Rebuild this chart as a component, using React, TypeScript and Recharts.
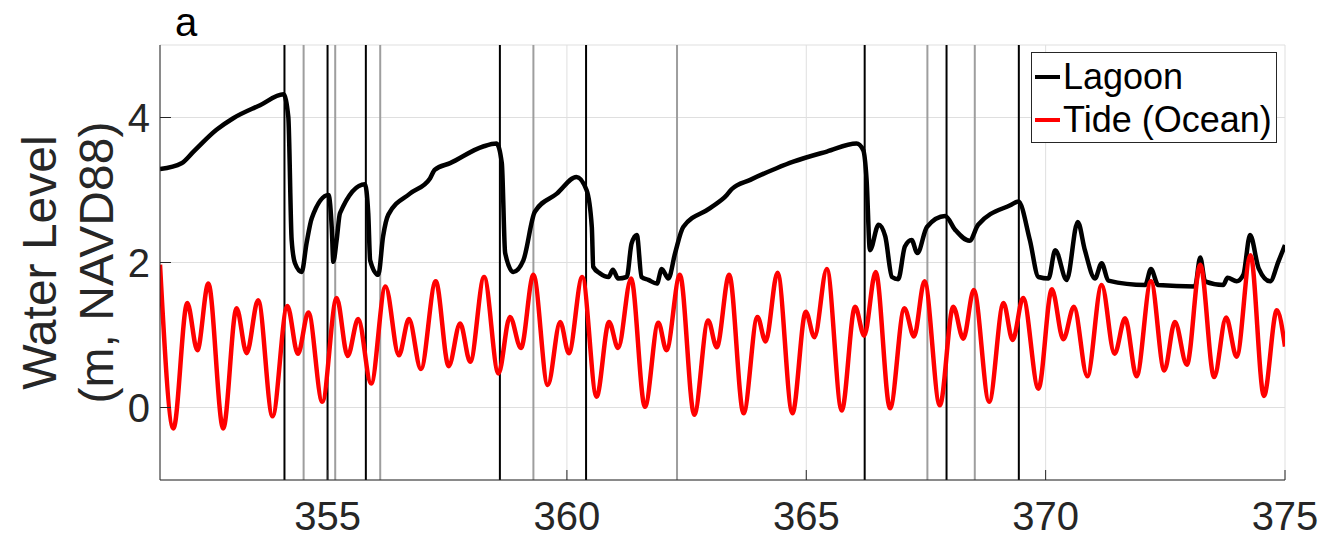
import React from 'react';
import { LineChart, Line, XAxis, YAxis, CartesianGrid, ReferenceLine, Legend } from 'recharts';

// ---- data ----
const lagoonTime = [
  351.5, 351.95, 352.2, 352.68, 353.03, 353.59, 354.08, 354.18, 354.25, 354.32, 354.46, 354.56, 354.67,
  355.02, 355.09, 355.12, 355.19, 355.26, 355.78, 355.85, 355.89, 356.06, 356.16, 356.27, 356.72, 357.14,
  357.24, 357.56, 358.25, 358.53, 358.64, 358.71, 358.88, 359.09, 359.33, 359.79, 360.2, 360.41, 360.52,
  360.55, 360.69, 360.87, 360.96, 361.07, 361.25, 361.35, 361.46, 361.56, 361.7, 361.88, 361.98, 362.12,
  362.26, 362.43, 362.99, 363.34, 363.44, 363.83, 364.38, 364.73, 365.43, 366.05, 366.19, 366.26, 366.33,
  366.51, 366.65, 366.79, 366.92, 367.06, 367.2, 367.32, 367.52, 367.9, 368.11, 368.41, 368.59, 369.26,
  369.43, 369.67, 369.85, 370.06, 370.2, 370.44, 370.67, 370.82, 371.03, 371.17, 371.31, 372.08, 372.2,
  372.35, 373.12, 373.23, 373.33, 373.71, 373.8, 373.99, 374.13, 374.27, 374.45, 374.69, 374.86, 375.0,
];
const lagoonLevel = [
  3.29, 3.37, 3.53, 3.83, 3.99, 4.17, 4.32, 4.01, 2.31, 1.99, 1.87, 2.26, 2.61,
  2.93, 2.45, 2.01, 2.31, 2.68, 3.08, 2.68, 2.03, 1.83, 2.36, 2.66, 2.95, 3.16,
  3.28, 3.37, 3.6, 3.64, 3.37, 2.13, 1.87, 2.03, 2.7, 2.95, 3.18, 3.0, 2.49,
  1.94, 1.85, 1.8, 1.9, 1.78, 1.8, 2.26, 2.38, 1.8, 1.76, 1.71, 1.91, 1.78,
  2.13, 2.49, 2.75, 2.93, 3.01, 3.14, 3.3, 3.39, 3.53, 3.64, 3.55, 3.14, 2.17,
  2.52, 2.36, 1.8, 1.77, 2.22, 2.31, 2.13, 2.49, 2.64, 2.45, 2.3, 2.52, 2.79,
  2.84, 2.31, 1.8, 1.78, 2.17, 1.76, 2.56, 2.17, 1.78, 1.99, 1.75, 1.69, 1.91,
  1.69, 1.67, 2.07, 1.74, 1.69, 1.79, 1.74, 1.83, 2.38, 1.92, 1.74, 2.01, 2.24,
];

const tideTime = [
  351.5, 351.78, 352.07, 352.28, 352.51, 352.82, 353.1, 353.31, 353.55, 353.85,
  354.16, 354.38, 354.6, 354.89, 355.19, 355.42,
  355.64, 355.91, 356.21, 356.49, 356.7, 356.95, 357.26, 357.53,
  357.77, 357.98, 358.27, 358.57, 358.81, 359.04, 359.3, 359.6, 359.86, 360.04,
  360.32, 360.62, 360.88, 361.07, 361.34, 361.63, 361.91, 362.08, 362.36, 362.66,
  362.95, 363.13, 363.39, 363.69, 363.98, 364.15, 364.4, 364.71, 364.99, 365.17,
  365.43, 365.74, 366.02, 366.21, 366.45, 366.75, 367.05, 367.25, 367.47, 367.79,
  368.07, 368.28, 368.5, 368.82, 369.12, 369.31, 369.53, 369.85, 370.13, 370.37,
  370.59, 370.87, 371.17, 371.44, 371.66, 371.9, 372.2, 372.48, 372.7, 372.95,
  373.23, 373.52, 373.77, 373.99, 374.28, 374.56, 374.83, 375.0,
];
const tideLevel = [
  1.97, -0.29, 1.44, 0.79, 1.71, -0.29, 1.37, 0.75, 1.48, -0.12,
  1.4, 0.74, 1.31, 0.08, 1.51, 0.71,
  1.22, 0.33, 1.67, 0.72, 1.22, 0.53, 1.74, 0.57,
  1.16, 0.63, 1.8, 0.47, 1.25, 0.82, 1.83, 0.31, 1.18, 0.75,
  1.8, 0.15, 1.18, 0.82, 1.78, 0.01, 1.17, 0.79, 1.83, -0.1,
  1.2, 0.83, 1.83, -0.08, 1.25, 0.91, 1.86, -0.08, 1.32, 0.97,
  1.91, -0.04, 1.39, 0.99, 1.87, -0.01, 1.37, 0.98, 1.74, 0.03,
  1.39, 0.95, 1.62, 0.08, 1.44, 0.93, 1.51, 0.26, 1.63, 0.94,
  1.39, 0.43, 1.69, 0.74, 1.23, 0.43, 1.74, 0.51, 1.18, 0.59,
  1.97, 0.42, 1.24, 0.7, 2.1, 0.16, 1.34, 0.84,
];

const breachBlack = [354.1, 355.0, 355.8, 358.6, 360.4, 366.22, 367.93, 369.44];
const breachGray = [354.5, 355.16, 356.1, 359.3, 362.3, 367.53, 368.52];

const xTicks = [355, 360, 365, 370, 375];
const yTicks = [0, 2, 4];
const xDomain = [351.5, 375];
const yDomain = [-1, 5];

const seriesNames = ['Lagoon', 'Tide (Ocean)'];
const seriesColors = ['#000000', '#ff0000'];

const lagoonData = lagoonTime.map((t, i) => ({ t, v: lagoonLevel[i] }));
const tideData = tideTime.map((t, i) => ({ t, v: tideLevel[i] }));

const FONT = '"Liberation Sans", Arial, Helvetica, sans-serif';
const AXIS_COLOR = '#262626';

const XTick = (props: any) => {
  const { x, y, payload } = props;
  return (
    <g>
      <line x1={x} x2={x} y1={y} y2={y - 10} stroke={AXIS_COLOR} strokeWidth={1} />
      <text x={x} y={y + 50} textAnchor="middle" fontSize={40} fill={AXIS_COLOR} fontFamily={FONT}>
        {payload.value}
      </text>
    </g>
  );
};

const YTick = (props: any) => {
  const { x, y, payload } = props;
  return (
    <g>
      <line x1={x} x2={x + 11} y1={y} y2={y} stroke={AXIS_COLOR} strokeWidth={1} />
      <text x={x - 10} y={y + 14} textAnchor="end" fontSize={40} fill={AXIS_COLOR} fontFamily={FONT}>
        {payload.value}
      </text>
    </g>
  );
};

const YLabel = (props: any) => {
  const vb = props.viewBox || { x: 0, y: 45, width: 160, height: 435 };
  const cy = vb.y + vb.height / 2;
  return (
    <g fontFamily={FONT} fontSize={48} fill={AXIS_COLOR}>
      <text x={56} y={cy} textAnchor="middle" transform={`rotate(-90 56 ${cy})`}>
        Water Level
      </text>
      <text x={113} y={cy} textAnchor="middle" transform={`rotate(-90 113 ${cy})`}>
        (m, NAVD88)
      </text>
    </g>
  );
};

const LegendBox = () => (
  <div
    style={{
      width: 246,
      height: 91,
      boxSizing: 'border-box',
      border: '1px solid #262626',
      background: '#ffffff',
      fontFamily: FONT,
      fontSize: 36,
      lineHeight: '43px',
      color: '#000',
      padding: '2px 0 0 3px',
      textAlign: 'left',
    }}
  >
    {seriesNames.map((n, i) => (
      <div key={n} style={{ display: 'flex', alignItems: 'center', whiteSpace: 'nowrap', height: 43 }}>
        <span style={{ display: 'inline-block', width: 25, height: 4, background: seriesColors[i], marginRight: 3 }} />
        <span>{n}</span>
      </div>
    ))}
  </div>
);

export default function App() {
  return (
    <div style={{ position: 'absolute', left: 0, top: 0, width: 1327, height: 541, background: '#fff' }}>
      <LineChart width={1327} height={541} margin={{ top: 45, right: 42, bottom: 0, left: 0 }}>
        <CartesianGrid stroke="#dfdfdf" strokeWidth={1} />
        <XAxis
          dataKey="t"
          type="number"
          domain={xDomain}
          ticks={xTicks}
          interval={0}
          allowDataOverflow
          height={61}
          tickSize={0}
          tickMargin={0}
          tick={<XTick />}
          axisLine={{ stroke: AXIS_COLOR, strokeWidth: 1 }}
          tickLine={false}
        />
        <YAxis
          type="number"
          domain={yDomain}
          ticks={yTicks}
          interval={0}
          allowDataOverflow
          width={160}
          tickSize={0}
          tickMargin={0}
          tick={<YTick />}
          axisLine={{ stroke: AXIS_COLOR, strokeWidth: 1 }}
          tickLine={false}
          label={{ content: <YLabel /> }}
        />
        {breachGray.map((t) => (
          <ReferenceLine key={'g' + t} x={t} stroke="#9e9e9e" strokeWidth={2} zIndex={-50} />
        ))}
        {breachBlack.map((t) => (
          <ReferenceLine key={'b' + t} x={t} stroke="#000000" strokeWidth={2} zIndex={-40} />
        ))}
        <Line
          data={lagoonData}
          dataKey="v"
          name={seriesNames[0]}
          type="monotone"
          stroke={seriesColors[0]}
          strokeWidth={4.5}
          dot={false}
          activeDot={false}
          isAnimationActive={false}
        />
        <Line
          data={tideData}
          dataKey="v"
          name={seriesNames[1]}
          type="monotone"
          stroke={seriesColors[1]}
          strokeWidth={4.5}
          dot={false}
          activeDot={false}
          isAnimationActive={false}
        />
        <Legend
          layout="horizontal"
          verticalAlign="middle"
          align="center"
          content={<LegendBox />}
          wrapperStyle={{ position: 'absolute', left: 1031, top: 52, width: 246, height: 91 }}
        />
      </LineChart>
      <div
        style={{
          position: 'absolute',
          left: 175,
          top: 2,
          fontFamily: FONT,
          fontSize: 40,
          lineHeight: '40px',
          color: '#000',
        }}
      >
        a
      </div>
    </div>
  );
}
